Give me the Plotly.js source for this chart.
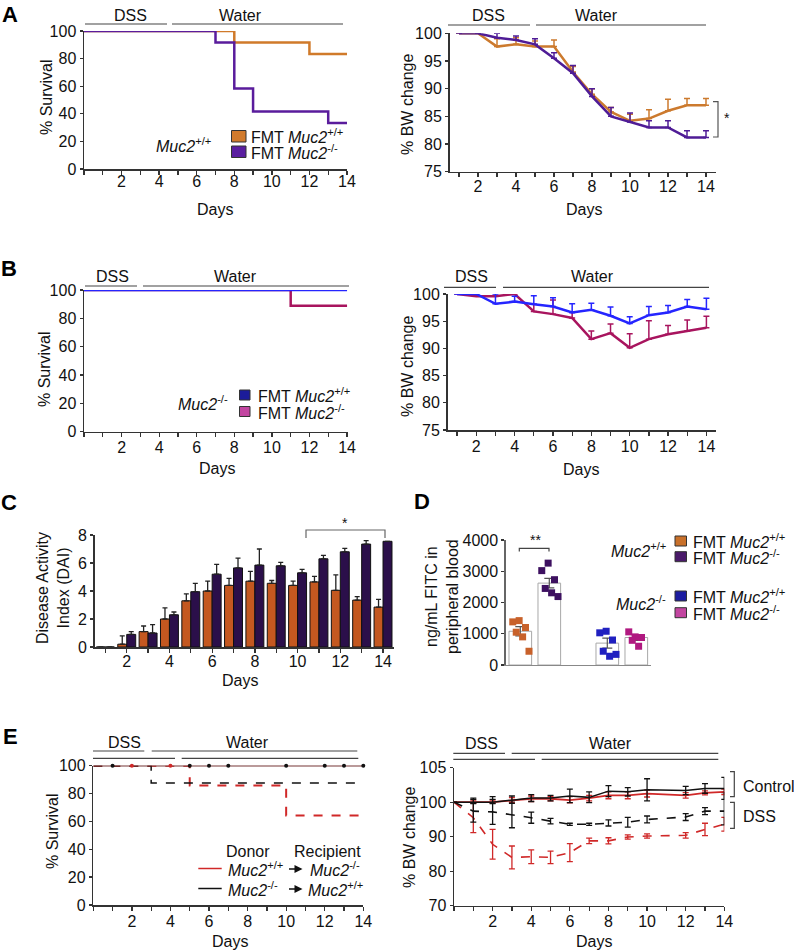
<!DOCTYPE html>
<html>
<head>
<meta charset="utf-8">
<script src="https://cdn.plot.ly/plotly-3.0.1.min.js"></script>
<style>body{margin:0;background:#fff}#fig{width:794px;height:951px}</style>
</head>
<body>
<div id="fig"></div>
<script>
var W = 794, H = 951;
var FONT = 'Liberation Sans, Arial, sans-serif';

// ---- A: survival, Muc2+/+ recipients ----
var aSurvWtDays = [0, 8, 12, 14];
var aSurvWt     = [100, 91.7, 83.3, 83.3];
var aSurvKoDays = [0, 7, 8, 9, 13, 14];
var aSurvKo     = [100, 91.7, 58.3, 41.7, 33.3, 33.3];

// ---- A: body weight ----
var aBwDays  = [1, 2, 3, 4, 5, 6, 7, 8, 9, 10, 11, 12, 13, 14];
var aBwWt    = [100, 100, 97.6, 98.0, 97.6, 97.6, 93.0, 89.0, 85.8, 84.2, 84.6, 86.0, 87.0, 87.0];
var aBwWtErr = [0, 0, 1.4, 1.2, 1.0, 1.2, 1.0, 1.0, 0.8, 1.2, 1.6, 2.1, 1.2, 1.2];
var aBwKo    = [100, 100, 99.2, 98.8, 98.0, 95.5, 92.8, 88.6, 85.0, 84.0, 83.0, 83.0, 81.2, 81.2];
var aBwKoErr = [0, 0, 0.8, 0.7, 1.0, 1.0, 1.4, 1.4, 1.6, 1.6, 1.2, 1.2, 1.2, 1.2];

// ---- B: survival, Muc2-/- recipients ----
var bSurvWtDays = [0, 14];
var bSurvWt     = [100, 100];
var bSurvKoDays = [0, 11, 14];
var bSurvKo     = [100, 88.9, 88.9];

// ---- B: body weight ----
var bBwDays  = [1, 2, 3, 4, 5, 6, 7, 8, 9, 10, 11, 12, 13, 14];
var bBwWt    = [100, 100, 98.2, 98.6, 98.1, 97.7, 96.6, 97.1, 96.0, 94.6, 96.1, 96.6, 97.7, 97.2];
var bBwWtErr = [0, 0, 1.8, 1.0, 1.6, 1.6, 1.6, 1.2, 1.6, 1.2, 1.6, 1.3, 1.3, 2.0];
var bBwKo    = [100, 99.6, 99.6, 100, 96.8, 96.3, 95.6, 91.7, 92.8, 90.1, 91.7, 92.6, 93.2, 93.8];
var bBwKoErr = [0, 0, 0.9, 0, 1.3, 2.6, 1.0, 1.5, 1.7, 2.6, 3.4, 1.6, 2.0, 2.1];

// ---- C: disease activity index ----
var cDays     = [1, 2, 3, 4, 5, 6, 7, 8, 9, 10, 11, 12, 13, 14];
var cDaiWt    = [0, 0.2, 1.1, 2.0, 3.3, 4.0, 4.4, 4.7, 4.55, 4.4, 4.65, 4.05, 3.35, 2.85];
var cDaiWtErr = [0, 0.6, 0.4, 0.8, 0.5, 0.7, 0.5, 0.7, 0.2, 0.3, 0.4, 1.1, 0.25, 0.55];
var cDaiKo    = [0, 0.9, 1.0, 2.3, 3.95, 5.2, 5.65, 5.85, 5.8, 5.3, 6.3, 6.8, 7.35, 7.55];
var cDaiKoErr = [0, 0.2, 0.6, 0.2, 0.6, 0.7, 0.7, 1.15, 0.25, 0.25, 0.25, 0.25, 0.25, 0];

// ---- D: FITC in blood ----
var dPos      = [1, 2, 4, 5];
var dMeans    = [1080, 2620, 700, 880];
var dSem      = [150, 150, 160, 90];
var dWtWt     = [1380, 1420, 1200, 1050, 900, 440];
var dWtKo     = [3020, 3260, 2730, 2450, 2310, 2190];
var dKoWt     = [1030, 1080, 800, 440, 280, 340];
var dKoKo     = [1060, 900, 880, 790, 600];

// ---- E: survival, reciprocal transfer ----
var eSurvDssWtDays = [0, 5, 10, 14];
var eSurvDssWt     = [100, 85.7, 64.3, 64.3];
var eSurvDssKoDays = [0, 3, 14];
var eSurvDssKo     = [100, 87.5, 87.5];
var eSurvCtrlDays  = [0, 14];
var eSurvCtrl      = [100, 100];
var eCensorKo      = [1, 5, 6, 7, 10, 12, 13, 14];
var eCensorWt      = [2, 4];

// ---- E: body weight ----
var eDays       = [0, 1, 2, 3, 4, 5, 6, 7, 8, 9, 10, 12, 13, 14];
var eCtrlKo     = [100, 100, 100, 100.3, 100.6, 100.6, 100.9, 100.7, 101.6, 101.5, 101.8, 101.7, 102.0, 102.0];
var eCtrlKoErr  = [0, 0.4, 0.4, 0.6, 0.5, 0.4, 1.0, 0.8, 0.8, 0.6, 1.6, 0.6, 0.7, 1.6];
var eCtrlWt     = [100, 100, 100, 100.25, 100.5, 100.5, 100.3, 100.6, 101.0, 101.0, 101.25, 101.0, 101.35, 101.5];
var eCtrlWtErr  = [0, 0.3, 0.3, 0.4, 0.4, 0.3, 0.5, 0.4, 0.5, 0.5, 0.5, 0.4, 0.3, 0.4];
var eDssKo      = [100, 97.4, 97.2, 96.4, 95.5, 94.5, 93.6, 93.6, 94.0, 94.2, 95.0, 95.7, 97.4, 97.4];
var eDssKoErr   = [0, 3.2, 3.6, 3.8, 1.6, 0.8, 0.3, 0.3, 0.9, 1.4, 1.0, 1.0, 1.0, 4.0];
var eDssWt      = [100, 95.5, 87.8, 84.0, 84.2, 84.0, 85.4, 88.8, 88.8, 89.9, 90.2, 90.4, 92.1, 93.6];
var eDssWtErr   = [0, 4.3, 4.3, 3.3, 2.0, 1.8, 2.6, 0.8, 0.9, 0.6, 0.6, 0.8, 1.8, 2.0];

var dayLabels = [2, 4, 6, 8, 10, 12, 14];

// colours
var ORANGE = '#d07a2a', PURPLE = '#5a1c9c';
var BLUE = '#2525ff', MAGENTA = '#a8145e';
var C_OR = '#c45820', C_PU = '#2b0f4a';
var RED = '#d02828';

function zeros(a) { return a.map(function () { return 0; }); }

// segmented y axis in E: 100-105 drawn as tall as 10 units
function bwSeg(v) { return v <= 100 ? v : 100 + (v - 100) * 2; }

function stepTrace(xs, ys, ax, color, dash, width) {
  return {x: xs, y: ys, xaxis: 'x' + ax, yaxis: 'y' + ax, mode: 'lines', cliponaxis: false,
    line: {shape: 'hv', color: color, width: width || 2.5, dash: dash || 'solid'}, hoverinfo: 'skip'};
}
function upErrTrace(xs, ys, errs, ax, color) {
  return {x: xs, y: ys, xaxis: 'x' + ax, yaxis: 'y' + ax, mode: 'lines', cliponaxis: false,
    line: {color: color, width: 2.5},
    error_y: {type: 'data', symmetric: false, array: errs, arrayminus: zeros(errs), color: color, thickness: 1.5, width: 3}};
}
function segTrace(xs, ys, errs, color, dash, width) {
  return {x: xs, y: ys.map(bwSeg), xaxis: 'x8', yaxis: 'y8', mode: 'lines', cliponaxis: false,
    line: {color: color, width: width, dash: dash},
    error_y: {type: 'data', symmetric: false,
      array: ys.map(function (v, i) { return bwSeg(v + errs[i]) - bwSeg(v); }),
      arrayminus: ys.map(function (v, i) { return bwSeg(v) - bwSeg(v - errs[i]); }),
      color: color, thickness: 1.3, width: 3}};
}
function jitter(vals, pos) {
  return vals.map(function (v, i) { return pos + ((i % 3) - 1) * 0.22 + (i > 2 ? 0.08 : -0.04); });
}

var data = [
  // A
  stepTrace(aSurvWtDays, aSurvWt, '', ORANGE),
  stepTrace(aSurvKoDays, aSurvKo, '', PURPLE),
  upErrTrace(aBwDays, aBwWt, aBwWtErr, '2', '#cc7a2e'),
  upErrTrace(aBwDays, aBwKo, aBwKoErr, '2', '#4f1c96'),
  // B
  stepTrace(bSurvKoDays, bSurvKo, '3', MAGENTA),
  stepTrace(bSurvWtDays, bSurvWt, '3', BLUE),
  upErrTrace(bBwDays, bBwKo, bBwKoErr, '4', MAGENTA),
  upErrTrace(bBwDays, bBwWt, bBwWtErr, '4', BLUE),
  // C
  {type: 'bar', x: cDays, y: cDaiWt, xaxis: 'x5', yaxis: 'y5',
    marker: {color: C_OR, line: {color: '#111', width: 1}},
    error_y: {type: 'data', symmetric: false, array: cDaiWtErr, arrayminus: zeros(cDaiWtErr), color: '#222', thickness: 1.3, width: 2.5}},
  {type: 'bar', x: cDays, y: cDaiKo, xaxis: 'x5', yaxis: 'y5',
    marker: {color: C_PU, line: {color: '#111', width: 1}},
    error_y: {type: 'data', symmetric: false, array: cDaiKoErr, arrayminus: zeros(cDaiKoErr), color: '#222', thickness: 1.3, width: 2.5}},
  // D
  {type: 'bar', x: dPos, y: dMeans, width: 0.78, xaxis: 'x6', yaxis: 'y6',
    marker: {color: 'rgba(255,255,255,0)', line: {color: '#a8a8a8', width: 1}},
    error_y: {type: 'data', array: dSem, color: '#555', thickness: 1.2, width: 5}},
  {x: jitter(dWtWt, 1), y: dWtWt, xaxis: 'x6', yaxis: 'y6', mode: 'markers', cliponaxis: false,
    marker: {symbol: 'square', size: 7, color: '#c8612a'}},
  {x: jitter(dWtKo, 2), y: dWtKo, xaxis: 'x6', yaxis: 'y6', mode: 'markers', cliponaxis: false,
    marker: {symbol: 'square', size: 7, color: '#3d1060'}},
  {x: jitter(dKoWt, 4), y: dKoWt, xaxis: 'x6', yaxis: 'y6', mode: 'markers', cliponaxis: false,
    marker: {symbol: 'square', size: 7, color: '#2020c0'}},
  {x: jitter(dKoKo, 5), y: dKoKo, xaxis: 'x6', yaxis: 'y6', mode: 'markers', cliponaxis: false,
    marker: {symbol: 'square', size: 7, color: '#b01880'}},
  // E survival
  stepTrace(eSurvDssWtDays, eSurvDssWt, '7', RED, 'dash', 2),
  stepTrace(eSurvDssKoDays, eSurvDssKo, '7', '#111', 'dash', 1.5),
  stepTrace(eSurvCtrlDays, eSurvCtrl, '7', RED, 'solid', 1.2),
  stepTrace(eSurvCtrlDays, eSurvCtrl, '7', '#111', 'solid', 1.2),
  {x: eCensorWt, y: eCensorWt.map(function () { return 100; }), xaxis: 'x7', yaxis: 'y7', mode: 'markers',
    cliponaxis: false, marker: {size: 4, color: RED}},
  {x: eCensorKo, y: eCensorKo.map(function () { return 100; }), xaxis: 'x7', yaxis: 'y7', mode: 'markers',
    cliponaxis: false, marker: {size: 4, color: '#111'}},
  // E body weight
  segTrace(eDays, eDssWt, eDssWtErr, RED, 'dash', 1.6),
  segTrace(eDays, eDssKo, eDssKoErr, '#111', 'dash', 1.6),
  segTrace(eDays, eCtrlWt, eCtrlWtErr, RED, 'solid', 1.8),
  segTrace(eDays, eCtrlKo, eCtrlKoErr, '#111', 'solid', 1.5)
];

function xa(x0, x1, range, extra) {
  return Object.assign({
    domain: [x0 / W, x1 / W], range: range, showline: true, linecolor: '#333', linewidth: 1.5,
    ticks: 'outside', ticklen: 4, tickwidth: 1.3, tickcolor: '#333', showgrid: false, zeroline: false,
    tickfont: {size: 16, color: '#111', family: FONT}, fixedrange: true,
    tickvals: dayLabels, ticklabelstandoff: -3,
    minor: {dtick: 1, tick0: 0, ticks: 'outside', ticklen: 4, tickwidth: 1.3, tickcolor: '#333', showgrid: false}
  }, extra || {});
}
function ya(yBottom, yTop, range, extra) {
  return Object.assign({
    domain: [1 - yBottom / H, 1 - yTop / H], range: range, showline: true, linecolor: '#333', linewidth: 1.5,
    ticks: 'outside', ticklen: 3, tickwidth: 1.3, tickcolor: '#333', showgrid: false, zeroline: false,
    tickfont: {size: 16, color: '#111', family: FONT}, fixedrange: true
  }, extra || {});
}

function ann(x, y, text, o) {
  return Object.assign({xref: 'paper', yref: 'paper', x: x / W, y: 1 - y / H, text: text, showarrow: false,
    font: {size: 16, color: '#111', family: FONT}, xanchor: 'center', yanchor: 'middle'}, o || {});
}
function letter(x, y, t) { return ann(x, y, '<b>' + t + '</b>', {font: {size: 22, color: '#000', family: FONT}}); }
function ytitle(x, y, t) { return ann(x, y, t, {textangle: -90}); }
function hline(x0, x1, y, c, w) {
  return {type: 'line', xref: 'paper', yref: 'paper', x0: x0 / W, x1: x1 / W, y0: 1 - y / H, y1: 1 - y / H,
    line: {color: c || '#444', width: w || 1.2}};
}
function pathPx(pts, c) {
  var d = pts.map(function (p, i) { return (i ? 'L' : 'M') + (p[0] / W) + ',' + (1 - p[1] / H); }).join(' ');
  return {type: 'path', xref: 'paper', yref: 'paper', path: d, line: {color: c || '#555', width: 1.2}};
}
function box(x0, y0, x1, y1, fill) {
  return {type: 'rect', xref: 'paper', yref: 'paper', x0: x0 / W, x1: x1 / W, y0: 1 - y1 / H, y1: 1 - y0 / H,
    fillcolor: fill, line: {color: '#333', width: 1}};
}
function arrow(x, y) {
  return {xref: 'paper', yref: 'paper', x: x / W, y: 1 - y / H, ax: -15, ay: 0, text: '', showarrow: true,
    arrowhead: 2, arrowsize: 1, arrowwidth: 1.6, arrowcolor: '#111'};
}

var MW = '<i>Muc2</i><sup>+/+</sup>', MK = '<i>Muc2</i><sup>-/-</sup>';

var annotations = [
  letter(10, 14, 'A'), letter(9, 268, 'B'), letter(9, 502, 'C'), letter(422, 501, 'D'), letter(10, 736, 'E'),
  // A
  ann(130, 15, 'DSS'), ann(240, 15, 'Water'), ann(488, 15, 'DSS'), ann(596, 15, 'Water'),
  ytitle(46, 97, '% Survival'), ytitle(408, 105, '% BW change'),
  ann(215, 210, 'Days'), ann(584, 210, 'Days'),
  ann(213, 145, MW, {xanchor: 'right'}),
  ann(249, 136, 'FMT ' + MW, {xanchor: 'left'}), ann(249, 152, 'FMT ' + MK, {xanchor: 'left'}),
  ann(722, 118, '*', {xanchor: 'left', font: {size: 14, color: '#111', family: FONT}}),
  // B
  ann(113, 277, 'DSS'), ann(235, 277, 'Water'), ann(472, 277, 'DSS'), ann(592, 277, 'Water'),
  ytitle(44, 369, '% Survival'), ytitle(407, 366, '% BW change'),
  ann(217, 468, 'Days'), ann(581, 469, 'Days'),
  ann(230, 403, MK, {xanchor: 'right'}),
  ann(256, 395, 'FMT ' + MW, {xanchor: 'left'}), ann(256, 411.5, 'FMT ' + MK, {xanchor: 'left'}),
  // C
  ytitle(53, 588, 'Disease Activity<br>Index (DAI)'),
  ann(240, 680, 'Days'),
  ann(345, 523, '*', {font: {size: 14, color: '#111', family: FONT}}),
  // D
  ytitle(442, 597, 'ng/mL FITC in<br>peripheral blood'),
  ann(535, 540, '**', {font: {size: 14, color: '#111', family: FONT}}),
  ann(668, 550, MW, {xanchor: 'right'}),
  ann(691, 541, 'FMT ' + MW, {xanchor: 'left'}), ann(691, 557, 'FMT ' + MK, {xanchor: 'left'}),
  ann(668, 603, MK, {xanchor: 'right'}),
  ann(691, 596, 'FMT ' + MW, {xanchor: 'left'}), ann(691, 612.5, 'FMT ' + MK, {xanchor: 'left'}),
  // E
  ann(124, 742, 'DSS'), ann(247, 742, 'Water'), ann(481, 743, 'DSS'), ann(610, 743, 'Water'),
  ytitle(52, 831, '% Survival'), ytitle(409, 838, '% BW change'),
  ann(230, 941, 'Days'), ann(594, 941, 'Days'),
  ann(247.5, 851.5, 'Donor'), ann(327, 851.5, 'Recipient'),
  ann(226, 868.5, MW, {xanchor: 'left'}), arrow(302.5, 869), ann(308, 868.5, MK, {xanchor: 'left'}),
  ann(226, 888.5, MK, {xanchor: 'left'}), arrow(302.5, 889), ann(306, 888.5, MW, {xanchor: 'left'}),
  ann(741, 786.5, 'Control', {xanchor: 'left'}), ann(741, 816.5, 'DSS', {xanchor: 'left'})
];

var shapes = [
  // DSS / Water bars
  hline(85, 167, 24), hline(172, 343, 24),
  hline(448, 530, 25), hline(536, 706, 25),
  hline(85, 137, 286), hline(143, 349, 286),
  hline(444, 496, 287.3), hline(503, 709, 287.3),
  hline(93, 144.3, 751), hline(151.7, 357.3, 751), hline(93, 175, 758.3), hline(181.7, 358.3, 758.3),
  hline(453.3, 505, 753.3), hline(511.7, 718.3, 753.3), hline(453.3, 535, 759.3), hline(541.7, 718.3, 759.3),
  // legend squares
  box(231.5, 130.5, 246, 142, '#d17a2c'), box(231.5, 146, 246, 157.5, '#5a1ea0'),
  box(239.5, 390, 250, 400, '#1c1c9a'), box(239.5, 406.5, 250, 416.5, '#c245a0'),
  box(675, 536, 686.5, 546, '#c8702a'), box(675, 551.7, 686.5, 561.7, '#4a1a6a'),
  box(675, 591, 686.5, 601, '#1c1ca0'), box(675, 607.7, 686.5, 617.7, '#c245a0'),
  // E legend lines
  hline(198.3, 221.7, 868.5, RED, 1.5), hline(198.3, 221.7, 888.5, '#111', 1.5),
  // significance brackets
  pathPx([[713, 101.7], [718, 101.7], [718, 137], [713, 137]], '#555'),
  pathPx([[306, 538], [306, 530], [385, 530], [385, 538]], '#666'),
  pathPx([[519.3, 551.5], [519.3, 548.3], [549, 548.3], [549, 551.5]], '#444'),
  pathPx([[730, 771.7], [734.3, 771.7], [734.3, 796.7], [730, 796.7]], '#444'),
  pathPx([[730, 802.3], [734.3, 802.3], [734.3, 828.3], [730, 828.3]], '#444')
];

var layout = {
  width: W, height: H, margin: {l: 0, r: 0, t: 0, b: 0},
  paper_bgcolor: '#fff', plot_bgcolor: 'rgba(0,0,0,0)', showlegend: false,
  font: {family: FONT, size: 16, color: '#111'},
  barmode: 'group', bargap: 0.16, bargroupgap: 0,
  xaxis:  xa(84, 347, [0, 14], {anchor: 'y', ticklabelstandoff: -7}),
  yaxis:  ya(169, 31, [0, 100], {anchor: 'x', dtick: 20}),
  xaxis2: xa(449.5, 715.5, [0.5, 14.5], {anchor: 'y2', ticklabelstandoff: -4}),
  yaxis2: ya(171.7, 33.3, [75, 100], {anchor: 'x2', dtick: 5}),
  xaxis3: xa(84, 348, [0, 14.05], {anchor: 'y3'}),
  yaxis3: ya(431.7, 290, [0, 100], {anchor: 'x3', dtick: 20}),
  xaxis4: xa(447.5, 716, [0.5, 14.5], {anchor: 'y4'}),
  yaxis4: ya(430, 294, [75, 100], {anchor: 'x4', dtick: 5}),
  xaxis5: xa(94.7, 393.7, [0.5, 14.5], {anchor: 'y5', ticklabelstandoff: -5}),
  yaxis5: ya(647, 535, [0, 8], {anchor: 'x5', dtick: 2}),
  xaxis6: xa(505.8, 650.8, [0.5, 5.5], {anchor: 'y6', ticks: '', showticklabels: false, linecolor: '#888', linewidth: 1.2,
    tickvals: [], minor: {ticks: ''}}),
  yaxis6: ya(665, 540, [0, 4000], {anchor: 'x6', dtick: 1000, linecolor: '#666'}),
  xaxis7: xa(93.3, 363.3, [0, 14], {anchor: 'y7'}),
  yaxis7: ya(905, 765.7, [0, 100], {anchor: 'x7', dtick: 20}),
  xaxis8: xa(454, 724.3, [0, 14], {anchor: 'y8'}),
  yaxis8: ya(905.7, 767.7, [70, 110], {anchor: 'x8', tickvals: [70, 80, 90, 100, 110], ticktext: ['70', '80', '90', '100', '105']}),
  annotations: annotations,
  shapes: shapes
};

Plotly.newPlot('fig', data, layout, {staticPlot: true, displayModeBar: false});
</script>
</body>
</html>
